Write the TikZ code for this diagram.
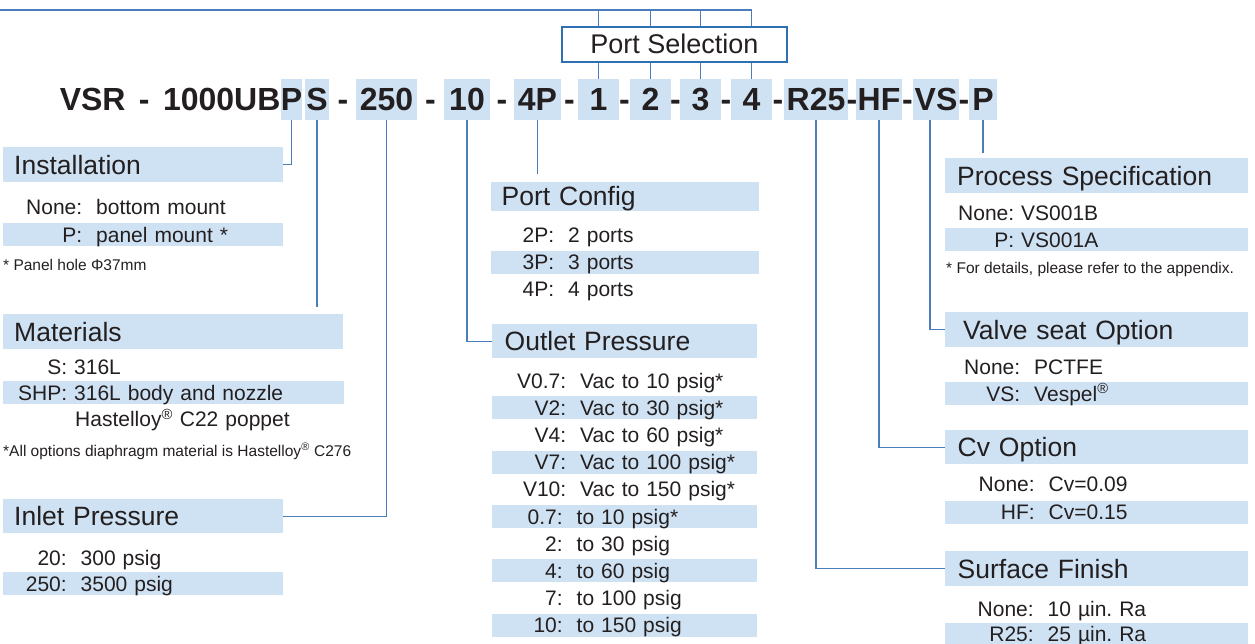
\documentclass[tikz,border=0pt]{standalone}
\usepackage{fontspec}
\setmainfont{Liberation Sans}
\usepackage{tikz}
\usetikzlibrary{positioning}
\usepackage{xcolor}
\definecolor{vsr-ink}{HTML}{231F20}
\definecolor{vsr-hl}{HTML}{CFE2F3}
\definecolor{vsr-line}{HTML}{4A7EBB}
\definecolor{vsr-box}{HTML}{2F70B2}

\newcommand{\optline}[3]{\makebox[#1][r]{#2}#3}
\newcommand{\regmark}{\textsuperscript{\textregistered}}
\frenchspacing

\begin{document}
\begin{tikzpicture}[x=1pt, y=-1pt,
    wire/.style={draw=vsr-line, line width=1.3pt},
    code/.style={font=\bfseries\fontsize{32}{32}\selectfont, text=vsr-ink, inner sep=0pt,
      minimum height=41pt, text height=23pt, text depth=0pt},
    codebox/.style={code, fill=vsr-hl, minimum width=#1},
    hdr/.style={fill=vsr-hl, anchor=north west, inner xsep=12pt, inner ysep=0pt, minimum height=35pt,
      text width=#1, align=left, text=vsr-ink, font=\fontsize{26.5}{26.5}\selectfont,
      text height=18.8pt, text depth=0pt},
    row/.style={anchor=west, inner sep=0pt, minimum height=23pt, text width=#1, align=left,
      text=vsr-ink, font=\fontsize{21}{21}\selectfont, text height=15pt, text depth=0pt},
    hrow/.style={row=#1, fill=vsr-hl},
    note/.style={anchor=base west, inner sep=0pt, text=vsr-ink, font=\fontsize{15.5}{15.5}\selectfont},
    psel/.style={draw=vsr-box, line width=2pt, fill=white, minimum width=225pt, minimum height=35pt,
      inner sep=0pt, text=vsr-ink, font=\fontsize{27}{27}\selectfont, text height=19pt, text depth=0pt}]
  \useasboundingbox (0,0) rectangle (1255,644);

  %% part number
  \node[codebox=21pt]  (cP)   at (291.5,99.5) {P};
  \node[code]          (n1000) [left=0pt of cP]    {1000UB};
  \node[code]          (d0)   [left=13pt of n1000] {-};
  \node[code]          (nVSR) [left=13pt of d0]    {VSR};
  \node[codebox=24pt]  (cS)   at (317,99.5)   {S};
  \node[code]          (d1)   at (343,99.5)   {-};
  \node[codebox=61pt]  (c250) at (386.5,99.5) {250};
  \node[code]          (d2)   at (430.5,99.5) {-};
  \node[codebox=46pt]  (c10)  at (467,99.5)   {10};
  \node[code]          (d3)   at (502,99.5)   {-};
  \node[codebox=47pt]  (c4P)  at (537.5,99.5) {4P};
  \node[code]          (d4)   at (569.5,99.5) {-};
  \node[codebox=41pt]  (c1)   at (598.5,99.5) {1};
  \node[code]          (d5)   at (624.5,99.5) {-};
  \node[codebox=41pt]  (c2)   at (650.5,99.5) {2};
  \node[code]          (d6)   at (675.5,99.5) {-};
  \node[codebox=41pt]  (c3)   at (700.5,99.5) {3};
  \node[code]          (d7)   at (726,99.5)   {-};
  \node[codebox=41pt]  (c4)   at (751.5,99.5) {4};
  \node[code]          (d8)   at (778,99.5)   {-};
  \node[codebox=64pt]  (cR25) at (816,99.5)   {R25};
  \node[code]          (d9)   at (852,99.5)   {-};
  \node[codebox=46pt]  (cHF)  at (879,99.5)   {HF};
  \node[code]          (d10)  at (907.5,99.5) {-};
  \node[codebox=46pt]  (cVS)  at (936,99.5)   {VS};
  \node[code]          (d11)  at (964,99.5)   {-};
  \node[codebox=28pt]  (cPP)  at (983,99.5)   {P};

  %% port selection
  \coordinate (tl) at (0,10);
  \draw[wire] (tl) -| (c4.north);
  \draw[wire] (c1.north) -- (c1.north |- tl);
  \draw[wire] (c2.north) -- (c2.north |- tl);
  \draw[wire] (c3.north) -- (c3.north |- tl);
  \node[psel] (sel) at (674.5,44.5) {Port Selection};

  %% installation
  \node[hdr=258pt, inner xsep=11pt] (inst) at (3,147) {Installation};
  \node[row=280pt]  (i1) at (3,207.5)         {\optline{79pt}{None:}{~~bottom mount}};
  \node[hrow=280pt] (i2) [below=4pt of i1]    {\optline{79pt}{P:}{~~panel mount *}};
  \node[note] (inote) at (3,270.5) {* Panel hole Φ37mm};

  %% materials
  \node[hdr=318pt, inner xsep=11pt] (mat) at (3,314) {Materials};
  \node[row=341pt]  (m1) at (3,366.7)         {\optline{64pt}{S:}{~316L}};
  \node[hrow=341pt] (m2) [below=2.8pt of m1]  {\optline{64pt}{SHP:}{~316L body and nozzle}};
  \node[row=341pt]  (m3) [below=2.8pt of m2]  {\hspace*{72pt}Hastelloy\regmark{} C22 poppet};
  \node[note] (mnote) at (3,456) {*All options diaphragm material is Hastelloy\regmark{} C276};

  %% inlet pressure
  \node[hdr=258pt, inner xsep=11pt, minimum height=34pt] (inlet) at (3,499) {Inlet Pressure};
  \node[row=280pt]  (n1) at (3,557.5)         {\optline{63.5pt}{20:}{~~300 psig}};
  \node[hrow=280pt] (n2) [below=3pt of n1]    {\optline{63.5pt}{250:}{~~3500 psig}};

  %% port config
  \node[hdr=247pt, inner xsep=10.5pt, minimum height=28.5pt] (pcfg) at (491,182) {Port Config};
  \node[row=268pt]  (pc1) at (491,235.5)       {\optline{63pt}{2P:}{~~2 ports}};
  \node[hrow=268pt] (pc2) [below=3.5pt of pc1] {\optline{63pt}{3P:}{~~3 ports}};
  \node[row=268pt]  (pc3) [below=3.5pt of pc2] {\optline{63pt}{4P:}{~~4 ports}};

  %% outlet pressure
  \node[hdr=240pt, inner xsep=12.5pt, minimum height=34pt] (outp) at (492,324) {Outlet Pressure};
  \node[row=265pt]  (o1)  at (492,380.75)       {\optline{74pt}{V0.7:}{~~Vac to 10 psig*}};
  \node[hrow=265pt] (o2)  [below=3.75pt of o1]  {\optline{74pt}{V2:}{~~Vac to 30 psig*}};
  \node[row=265pt]  (o3)  [below=3.75pt of o2]  {\optline{74pt}{V4:}{~~Vac to 60 psig*}};
  \node[hrow=265pt] (o4)  [below=3.75pt of o3]  {\optline{74pt}{V7:}{~~Vac to 100 psig*}};
  \node[row=265pt]  (o5)  [below=3.75pt of o4]  {\optline{74pt}{V10:}{~~Vac to 150 psig*}};
  \node[hrow=265pt] (o6)  [below=3.75pt of o5]  {\optline{70.5pt}{0.7:}{~~to 10 psig*}};
  \node[row=265pt]  (o7)  [below=3.75pt of o6]  {\optline{70.5pt}{2:}{~~to 30 psig}};
  \node[hrow=265pt] (o8)  [below=3.75pt of o7]  {\optline{70.5pt}{4:}{~~to 60 psig}};
  \node[row=265pt]  (o9)  [below=3.75pt of o8]  {\optline{70.5pt}{7:}{~~to 100 psig}};
  \node[hrow=265pt] (o10) [below=3.75pt of o9]  {\optline{70.5pt}{10:}{~~to 150 psig}};

  %% process specification
  \node[hdr=279pt] (proc) at (945,158) {Process Specification};
  \node[row=303pt]  (p1) at (945,213)          {\optline{69pt}{None:}{~VS001B}};
  \node[hrow=303pt] (p2) [below=3.5pt of p1]   {\optline{69pt}{P:}{~VS001A}};
  \node[note] (pnote) at (946,273.3) {* For details, please refer to the appendix.};

  %% valve seat
  \node[hdr=267pt, inner xsep=18pt] (vseat) at (945,312) {Valve seat Option};
  \node[row=303pt]  (v1) at (945,366.7)        {\optline{75pt}{None:}{~~PCTFE}};
  \node[hrow=303pt] (v2) [below=3.5pt of v1]   {\optline{75pt}{VS:}{~~Vespel\regmark}};

  %% cv option
  \node[hdr=278pt, inner xsep=12.5pt, minimum height=34pt] (cvopt) at (945,430) {Cv Option};
  \node[row=303pt]  (cv1) at (945,484)         {\optline{89.5pt}{None:}{~~Cv=0.09}};
  \node[hrow=303pt] (cv2) [below=5pt of cv1]   {\optline{89.5pt}{HF:}{~~Cv=0.15}};

  %% surface finish
  \node[hdr=278pt, inner xsep=12.5pt] (surf) at (945,551) {Surface Finish};
  \node[row=303pt]  (s1) at (945,608.5)        {\optline{88.5pt}{None:}{~~10 µin. Ra}};
  \node[hrow=303pt] (s2) [below=2.5pt of s1]   {\optline{88.5pt}{R25:}{~~25 µin. Ra}};

  %% leaders
  \draw[wire] (cP.south) |- (inst.east);
  \draw[wire, shorten >=7pt] (cS.south) -- (cS.south |- mat.north);
  \draw[wire] (c250.south) |- (inlet.east);
  \draw[wire] (c10.south) |- (outp.west);
  \draw[wire, shorten >=8pt] (c4P.south) -- (c4P.south |- pcfg.north);
  \draw[wire] (cR25.south) |- (surf.west);
  \draw[wire] (cHF.south) |- (cvopt.west);
  \draw[wire] ([xshift=-6pt]cVS.south) |- (vseat.west);
  \draw[wire, shorten >=5pt] (cPP.south) -- (cPP.south |- proc.north);
\end{tikzpicture}
\end{document}
